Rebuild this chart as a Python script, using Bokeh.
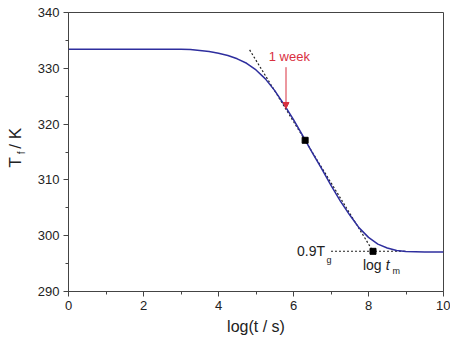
import numpy as np
from bokeh.plotting import figure
from bokeh.layouts import row
from bokeh.models import Label, Arrow, NormalHead, FixedTicker, Range1d
from bokeh.core.properties import value
from bokeh.embed import file_html
from bokeh.resources import INLINE

# curve T_f vs log(t/s)
log_t = [0, 1, 2, 3, 3.25, 3.5, 3.75, 4.0, 4.25, 4.5, 4.75, 5.0, 5.25, 5.5, 5.75, 6.0, 6.25,
         6.5, 6.75, 7.0, 7.25, 7.5, 7.75, 8.0, 8.25, 8.5, 8.75, 9.0, 9.5, 10.0]
T_f = [333.4, 333.4, 333.4, 333.4, 333.35, 333.2, 333.0, 332.7, 332.3, 331.7, 330.9, 329.7,
       328.1, 326.0, 323.5, 320.8, 317.9, 314.9, 312.0, 309.0, 306.2, 303.7, 301.4, 299.7,
       298.5, 297.8, 297.35, 297.15, 297.1, 297.1]

# tangent line (inflection tangent)
tan_x = [4.83, 8.12]
tan_y = [333.3, 297.2]
# horizontal 0.9 Tg line
hz_x = [7.0, 9.0]
hz_y = [297.2, 297.2]
# marked points
pt_x = [6.31, 8.12]
pt_y = [317.1, 297.2]
# 1 week arrow
wk_x = 5.8
wk_y0, wk_y1 = 330.2, 322.8

x_ticks = [0, 2, 4, 6, 8, 10]
y_ticks = [290, 300, 310, 320, 330, 340]

p = figure(width=420, height=338, output_backend="svg", toolbar_location=None,
           x_range=Range1d(0, 10), y_range=Range1d(290, 340),
           frame_width=375, frame_height=279,
           min_border_left=38, min_border_right=7, min_border_top=12, min_border_bottom=47)
p.background_fill_color = "white"
p.border_fill_color = "white"
p.outline_line_color = "#444444"
p.outline_line_width = 1
p.grid.visible = False

for ax in (p.xaxis[0], p.yaxis[0]):
    ax.major_label_text_font = "Liberation Sans"
    ax.major_label_text_font_size = "13px"
    ax.major_label_text_color = "#222222"
    ax.axis_line_color = "#444444"
    ax.major_tick_line_color = "#444444"
    ax.minor_tick_line_color = "#444444"
    ax.major_tick_out = 5
    ax.major_tick_in = 0
    ax.minor_tick_out = 3
    ax.minor_tick_in = 0
p.yaxis.major_label_standoff = 4
p.xaxis.major_label_standoff = 4

p.xaxis.ticker = FixedTicker(ticks=x_ticks, minor_ticks=[1, 3, 5, 7, 9])
p.yaxis.ticker = FixedTicker(ticks=y_ticks, minor_ticks=[295, 305, 315, 325, 335])
p.xaxis.axis_label = "log(t / s)"
p.xaxis.axis_label_text_font = "Liberation Sans"
p.xaxis.axis_label_text_font_style = "normal"
p.xaxis.axis_label_text_font_size = "16px"
p.xaxis.axis_label_text_color = "#222222"
p.xaxis.axis_label_standoff = 5
p.yaxis.axis_label = None

p.line(tan_x, tan_y, line_color="#222222", line_width=1.2, line_dash="2 2")
p.line(hz_x, hz_y, line_color="#222222", line_width=1.1, line_dash="2 2")
p.line(log_t, T_f, line_color="#2e2e9e", line_width=1.5)
p.scatter(pt_x, pt_y, marker="square", size=6, color="black")

p.add_layout(Arrow(end=NormalHead(size=6, fill_color="#d9303f", line_color="#d9303f"),
                   x_start=wk_x, y_start=wk_y0, x_end=wk_x, y_end=wk_y1,
                   line_color="#d9303f", line_width=1))

def lab(x, y, t, size="13px", align="left", base="middle", style="normal", color="#222222"):
    p.add_layout(Label(x=x, y=y, text=t, text_font="Liberation Sans", text_font_size=size,
                       text_align=align, text_baseline=base, text_font_style=style,
                       text_color=color))

lab(5.89, 332.1, "1 week", size="13px", align="center", color="#d9303f")
lab(6.84, 297.3, "0.9T", size="14px", align="right")
lab(6.88, 295.6, "g", size="9px")
lab(7.85, 294.7, "log", size="14px")
lab(8.46, 294.7, "t", size="14px", style="italic")
lab(8.64, 293.7, "m", size="9px")

# left strip holding the rotated y-axis title  T_f / K
yl = figure(width=30, height=338, output_backend="svg", toolbar_location=None,
            x_range=Range1d(0, 30), y_range=Range1d(290, 340),
            frame_width=30, frame_height=279,
            min_border_left=0, min_border_right=0, min_border_top=12, min_border_bottom=47)
yl.axis.visible = False
yl.grid.visible = False
yl.outline_line_color = None
yl.background_fill_color = "white"
yl.border_fill_color = "white"
ang = np.pi / 2
yl.text(x=[15], y=[312.2], text=["T"], angle=ang, text_font=value("Liberation Sans"),
        text_font_size="17px", text_align="left", text_baseline="middle", text_color="#222222")
yl.text(x=[20.5], y=[314.6], text=["f"], angle=ang, text_font=value("Liberation Sans"),
        text_font_size="10px", text_align="left", text_baseline="middle", text_color="#222222")
yl.text(x=[15], y=[315.6], text=[" / K"], angle=ang, text_font=value("Liberation Sans"),
        text_font_size="17px", text_align="left", text_baseline="middle", text_color="#222222")

layout = row(yl, p, spacing=0)
open("out.html", "w").write(file_html(layout, INLINE))
